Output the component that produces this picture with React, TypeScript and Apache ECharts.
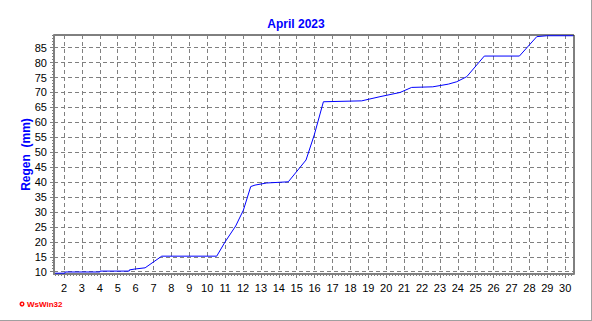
import React, { useEffect, useRef } from "react";
import * as echarts from "echarts";

const days = [1.5, 2.05, 2.06, 4.0, 4.01, 5.64, 5.65, 5.97, 6.53, 7.46, 10.53, 11.0, 11.59, 12.02, 12.43, 12.67, 13.32, 14.53, 15.52, 15.98, 16.49, 18.63, 19.65, 20.77, 21.42, 22.6, 23.47, 23.94, 24.5, 25.48, 27.44, 28.41, 28.97, 30.44];
const rain = [9.5, 9.5, 9.9, 9.9, 10.2, 10.2, 10.6, 10.9, 11.3, 15.2, 15.2, 20.0, 25.3, 30.6, 38.5, 39.0, 39.7, 40.1, 47.4, 55.8, 66.9, 67.2, 68.6, 70.0, 71.7, 71.9, 72.8, 73.6, 75.3, 82.2, 82.2, 88.7, 89.0, 89.0];
const dayTicks = [2, 3, 4, 5, 6, 7, 8, 9, 10, 11, 12, 13, 14, 15, 16, 17, 18, 19, 20, 21, 22, 23, 24, 25, 26, 27, 28, 29, 30];
const rainTicks = [10, 15, 20, 25, 30, 35, 40, 45, 50, 55, 60, 65, 70, 75, 80, 85];
const title = "April 2023";
const yName = "Regen  (mm)";

const X_MIN = 1.44, X_MAX = 30.49, Y_MIN = 9.23, Y_MAX = 89.25;

export default function App() {
  const ref = useRef<HTMLDivElement>(null);
  useEffect(() => {
    document.body.style.margin = "0";
    const chart = echarts.init(ref.current!, null, { renderer: "svg" });
    const minorX: number[] = [];
    for (let d = 1.5; d <= 30.49; d += 1 / 6) minorX.push(+d.toFixed(4));
    const minorY: number[] = [];
    for (let v = 10; v <= 89; v += 1) minorY.push(v);
    const font = "Liberation Sans, Arial, sans-serif";
    chart.setOption({
      animation: false,
      title: {
        text: title, left: "center", top: 13,
        textStyle: { color: "#0000ff", fontSize: 12, fontWeight: "bold", fontFamily: font },
      },
      grid: { left: 54, top: 35, width: 520, height: 239, show: true, borderColor: "#000", borderWidth: 1, backgroundColor: "transparent" },
      xAxis: [
        {
          type: "value", min: X_MIN, max: X_MAX, position: "bottom",
          axisLine: { show: true, onZero: false, lineStyle: { color: "#808080", width: 2 } },
          axisTick: { show: true, customValues: dayTicks, length: 4, lineStyle: { color: "#808080" } },
          axisLabel: { customValues: dayTicks, color: "#000", fontSize: 11, fontFamily: font, margin: 8 },
          splitLine: { show: true, lineStyle: { color: "#808080", type: [4, 3], width: 1 } },
        },
        {
          type: "value", min: X_MIN, max: X_MAX, position: "bottom",
          axisLine: { show: false },
          axisTick: { show: true, customValues: minorX, length: 2, lineStyle: { color: "#808080" } },
          axisLabel: { show: false },
          splitLine: { show: false },
        },
      ],
      yAxis: [
        {
          type: "value", min: Y_MIN, max: Y_MAX, position: "left",
          name: yName, nameLocation: "middle", nameGap: 22, nameRotate: 90, nameMoveOverlap: false,
          nameTextStyle: { color: "#0000ff", fontSize: 12, fontWeight: "bold", fontFamily: font },
          axisLine: { show: true, onZero: false, lineStyle: { color: "#808080", width: 2 } },
          axisTick: { show: true, customValues: rainTicks, length: 4, lineStyle: { color: "#808080" } },
          axisLabel: { customValues: rainTicks, color: "#000", fontSize: 11, fontFamily: font, margin: 7 },
          splitLine: { show: true, lineStyle: { color: "#808080", type: [4, 3], width: 1 } },
        },
        {
          type: "value", min: Y_MIN, max: Y_MAX, position: "left",
          axisLine: { show: false },
          axisTick: { show: true, customValues: minorY, length: 2, lineStyle: { color: "#808080" } },
          axisLabel: { show: false },
          splitLine: { show: false },
        },
      ],
      series: [
        {
          type: "line", xAxisIndex: 0, yAxisIndex: 0,
          data: days.map((d, i) => [d, rain[i]]),
          showSymbol: false, symbol: "none",
          lineStyle: { color: "#0000ff", width: 1 },
        },
      ],
      graphic: [
        { type: "circle", shape: { cx: 22, cy: 304, r: 2.5 }, style: { fill: "#ff0000" } },
        { type: "circle", shape: { cx: 22, cy: 304, r: 1 }, style: { fill: "#ffffff" } },
        { type: "text", x: 27, y: 304, style: { text: "WsWin32", fill: "#ff0000", font: "bold 8px Liberation Sans, Arial, sans-serif", textVerticalAlign: "middle" } },
        { type: "line", shape: { x1: 591.5, y1: 0, x2: 591.5, y2: 321 }, style: { stroke: "#a0a0a0", lineWidth: 1 } },
        { type: "line", shape: { x1: 0, y1: 320.5, x2: 592, y2: 320.5 }, style: { stroke: "#a0a0a0", lineWidth: 1 } },
      ],
    });
    return () => chart.dispose();
  }, []);
  return <div ref={ref} style={{ position: "fixed", left: 0, top: 0, width: 592, height: 321, background: "#fff" }} />;
}
